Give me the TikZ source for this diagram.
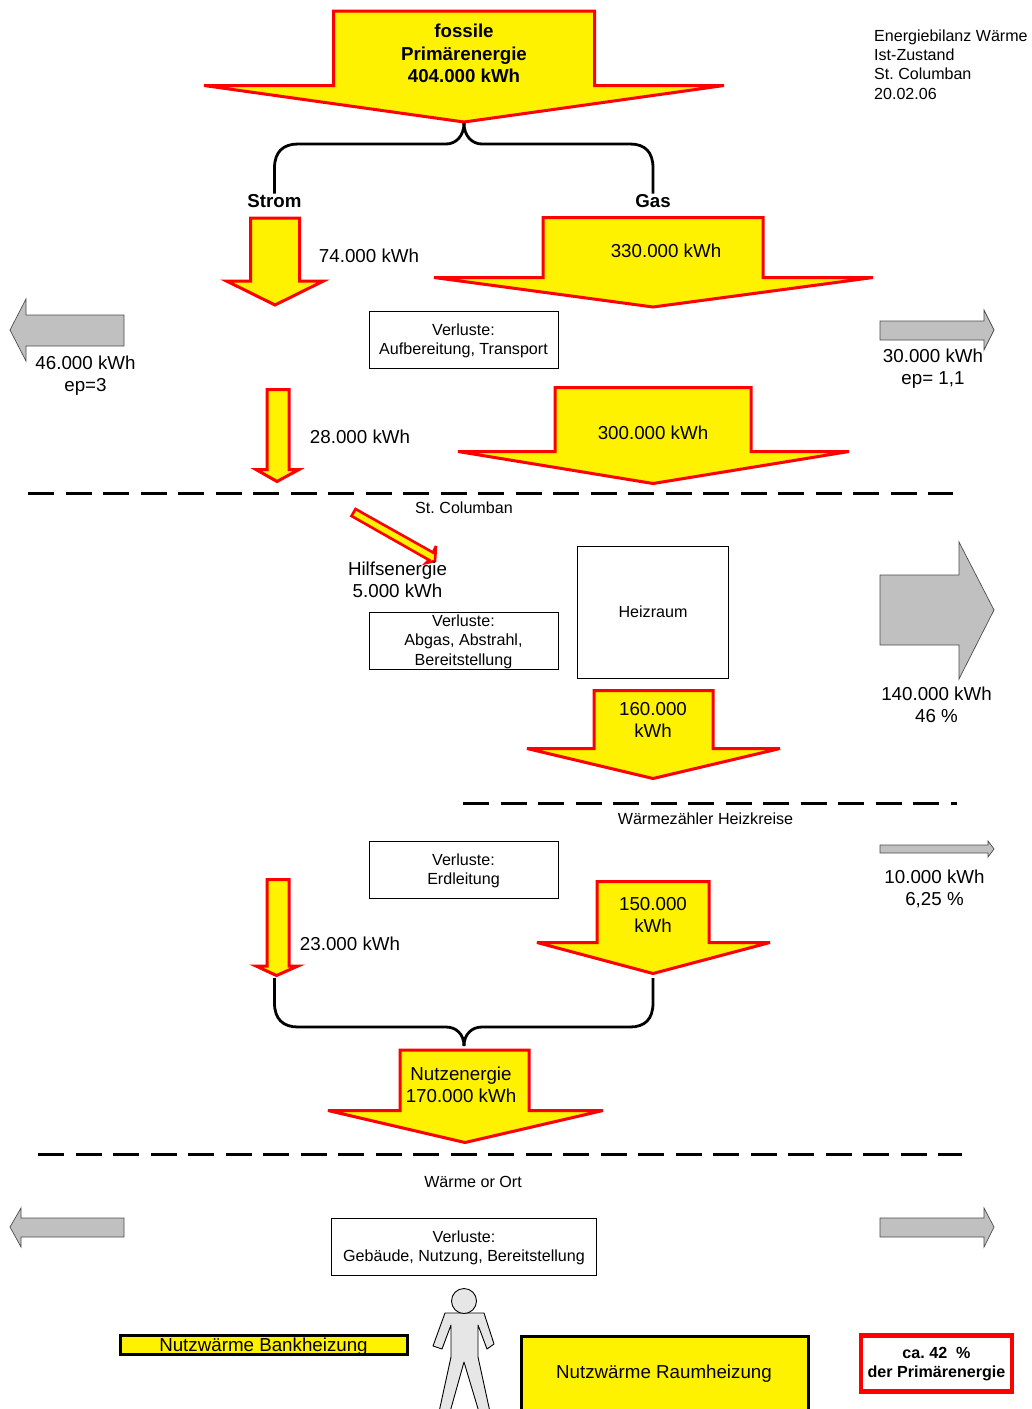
\documentclass[tikz,border=0pt]{standalone}
\usepackage{fontspec}
\setmainfont{Liberation Sans}
\frenchspacing
\definecolor{arrowgrey}{RGB}{192,192,192}
\definecolor{persongrey}{RGB}{230,230,230}
\newcommand{\lowerline}{\rule{0pt}{13.6pt}}
\tikzset{
  flow/.style={draw=red,fill=yellow,line width=3pt,miter limit=5,line join=miter},
  greyarrow/.style={draw=black!70,fill=arrowgrey,line width=0.7pt,line join=miter},
  brace/.style={draw=black,line width=2.8pt},
  sep/.style={draw=black,line width=3pt,dash pattern=on 26pt off 11.5pt},
  lossbox/.style={draw=black,line width=0.9pt,fill=white,align=center,inner sep=0pt,font=\fontsize{16.1}{19}\selectfont},
  bigtxt/.style={align=center,inner sep=0pt,font=\fontsize{18.75}{22}\selectfont},
  smalltxt/.style={align=center,inner sep=0pt,font=\fontsize{16.1}{19}\selectfont},
  boldtxt/.style={align=center,inner sep=0pt,font=\fontsize{18.7}{22.5}\selectfont\bfseries},
  plain/.style={align=left,inner sep=0pt,anchor=north west,font=\fontsize{16.05}{19.3}\selectfont},
}
% name, shaft l, shaft r, top, head l, head r, shoulder, tip x, tip y
\newcommand{\flowdown}[9]{%
  \draw[flow] (#2,#4) -- (#3,#4) -- (#3,#7) -- (#6,#7) -- (#8,#9) -- (#5,#7) -- (#2,#7) -- cycle;
  \coordinate (#1) at (#8,#9);}
\begin{document}
\begin{tikzpicture}[x=1pt,y=-1pt]
\useasboundingbox (0,0) rectangle (1032,1409);
\clip (0,0) rectangle (1032,1409);

% yellow flow arrows
\flowdown{tipTop}{333.5}{594.5}{11}{204}{724}{85.5}{464}{122}
\flowdown{tipStrom}{250.5}{299.5}{218}{226.5}{323.5}{281}{275}{305}
\flowdown{tipGas}{543}{763}{217.5}{434}{873}{277.5}{653}{307}
\flowdown{tipA}{267}{289}{389.5}{256}{299}{469.5}{277}{481.5}
\flowdown{tipB}{555}{751}{387.5}{458}{849}{451.5}{653}{483.5}
\flowdown{tipC}{594}{713}{690.5}{527}{780}{748.5}{653}{778.5}
\flowdown{tipD}{267}{289}{879.5}{256}{298}{966}{276.5}{975.5}
\flowdown{tipE}{597}{709}{881.5}{537}{770}{942.5}{653}{973.5}
\flowdown{tipF}{400}{529}{1050}{328}{603}{1110.5}{465}{1142.5}

% auxiliary energy arrow
\draw[flow,line width=2.6pt] (355.5,509) -- (433,552.5) -- (436,546) -- (435,561) -- (426,563) -- (429,560) -- (351.5,516) -- cycle;

% grey arrows
\draw[greyarrow] (124,315) -- (26,315) -- (26,299) -- (10,330) -- (26,361) -- (26,346) -- (124,346) -- cycle;
\draw[greyarrow] (880,321) -- (984,321) -- (984,310) -- (994,330) -- (984,350) -- (984,340) -- (880,340) -- cycle;
\draw[greyarrow] (880,575) -- (959,575) -- (959,542) -- (994,610) -- (959,679) -- (959,645) -- (880,645) -- cycle;
\draw[greyarrow] (880,845) -- (988,845) -- (988,841) -- (994,849) -- (988,857) -- (988,853) -- (880,853) -- cycle;
\draw[greyarrow] (124,1218) -- (21,1218) -- (21,1208) -- (10,1227) -- (21,1247) -- (21,1237) -- (124,1237) -- cycle;
\draw[greyarrow] (880,1218) -- (984,1218) -- (984,1208) -- (994,1227) -- (984,1247) -- (984,1237) -- (880,1237) -- cycle;

% separators
\coordinate (s1a) at (28,493);   \coordinate (s1b) at (953,493);
\coordinate (s2a) at (463,803);  \coordinate (s2b) at (957,803);
\coordinate (s3a) at (38,1154);  \coordinate (s3b) at (962,1154);
\draw[sep] (s1a) -- (s1b);
\draw[sep] (s2a) -- (s2b);
\draw[sep] (s3a) -- (s3b);

% labels at braces
\node[boldtxt] (strom) at (274.5,201.5) {Strom};
\node[boldtxt] (gas) at (653,201.5) {Gas};

% braces
\coordinate (braceTop) at (464,123);
\draw[brace] (strom.north) ++(0,-1) -- (274.5,168) .. controls (274.5,152) and (283,144) .. (298,144) -- (446,144) .. controls (456,144) and (464,136) .. (braceTop);
\draw[brace] (gas.north) ++(0,-1) -- (653,168) .. controls (653,152) and (645,144) .. (630,144) -- (482,144) .. controls (472,144) and (464,136) .. (braceTop);
\coordinate (braceL) at (274.5,978);
\coordinate (braceR) at (653,978);
\coordinate (braceOut) at (464,1046);
\draw[brace] (braceL) -- (274.5,1003) .. controls (274.5,1019) and (283,1027) .. (298,1027) -- (446,1027) .. controls (456,1027) and (464,1034) .. (braceOut);
\draw[brace] (braceR) -- (653,1003) .. controls (653,1019) and (645,1027) .. (630,1027) -- (482,1027) .. controls (472,1027) and (464,1034) .. (braceOut);

% text on arrows
\node[boldtxt] (tTop) at (464,53.5) {fossile\\Primärenergie\\404.000 kWh};
\node[bigtxt] (t330) at (666,251) {330.000 kWh};
\node[bigtxt] (t300) at (653,433) {300.000 kWh};
\node[bigtxt] (t160) at (653,720) {160.000\\kWh};
\node[bigtxt] (t150) at (653,915) {150.000\\kWh};
\node[bigtxt] (tNutz) at (461,1085) {Nutzenergie\\170.000 kWh};

% side values
\node[bigtxt] (t74) at (369,256) {74.000 kWh};
\node[bigtxt] (t28) at (360,437) {28.000 kWh};
\node[bigtxt] (t23) at (350,944) {23.000 kWh};
\node[bigtxt] (t46) at (85.5,376) {46.000 kWh\\ep=3};
\node[bigtxt] (t30) at (933,369) {30.000 kWh\\ep= 1,1};
\node[bigtxt] (t140) at (936.5,705) {140.000 kWh\\46 \%};
\node[bigtxt] (t10) at (934.5,889) {10.000 kWh\\6,25 \%};
\node[bigtxt] (tHilf) at (397.5,580) {Hilfsenergie\\5.000 kWh};

% caption and section labels
\node[plain] (cap) at (874,29.5) {Energiebilanz Wärme\\Ist-Zustand\\St. Columban\\20.02.06};
\node[smalltxt] (lCol) at (464,508) {St. Columban};
\node[smalltxt] (lWz) at (705.5,819) {Wärmezähler Heizkreise};
\node[smalltxt] (lOrt) at (473,1182) {Wärme or Ort};

% loss boxes
\node[lossbox,minimum width=189pt,minimum height=57pt] (v1) at (463.5,340) {\lowerline Verluste:\\Aufbereitung, Transport};
\node[lossbox,minimum width=189pt,minimum height=57pt,font=\fontsize{16.1}{19.5}\selectfont] (v2) at (463.5,640.5) {\lowerline Verluste:\\Abgas, Abstrahl,\\Bereitstellung};
\node[lossbox,minimum width=151pt,minimum height=132pt] (heiz) at (653,612) {Heizraum};
\node[lossbox,minimum width=189pt,minimum height=57pt] (v3) at (463.5,869.5) {\lowerline Verluste:\\Erdleitung};
\node[lossbox,minimum width=265pt,minimum height=57pt] (v4) at (464,1246.5) {\lowerline Verluste:\\Gebäude, Nutzung, Bereitstellung};

% person
\draw[draw=black,fill=persongrey,line width=0.9pt,line join=round]
  (445,1313) -- (484,1313) -- (494,1344) -- (487,1349) -- (478,1325) -- (478,1357) -- (490,1412) -- (479,1412) -- (464,1362) -- (450,1412) -- (439,1412) -- (451,1357) -- (451,1325) -- (442,1349) -- (433,1346) -- cycle;
\draw[draw=black,fill=persongrey,line width=0.9pt] (464,1301) circle (12.5);

% result bars
\node[draw=black,fill=yellow,line width=3pt,minimum width=287pt,minimum height=19pt,inner sep=0pt] (bank) at (263.5,1345) {};
\node[bigtxt] (tbank) at (263.5,1346.5) {Nutzwärme Bankheizung};
\node[draw=black,fill=yellow,line width=3pt,minimum width=287pt,minimum height=80pt,inner sep=0pt] (raum) at (664.5,1376) {};
\node[bigtxt] (traum) at (664,1373.5) {Nutzwärme Raumheizung};
\node[draw=red,fill=white,line width=4.3pt,minimum width=151pt,minimum height=56pt,inner sep=0pt] (res) at (936.5,1363.5) {};
\node[align=center,inner sep=0pt,font=\fontsize{16.1}{19}\selectfont\bfseries] (tres) at (936.5,1364.5) {ca. 42~~\%\\der Primärenergie};
\end{tikzpicture}
\end{document}
